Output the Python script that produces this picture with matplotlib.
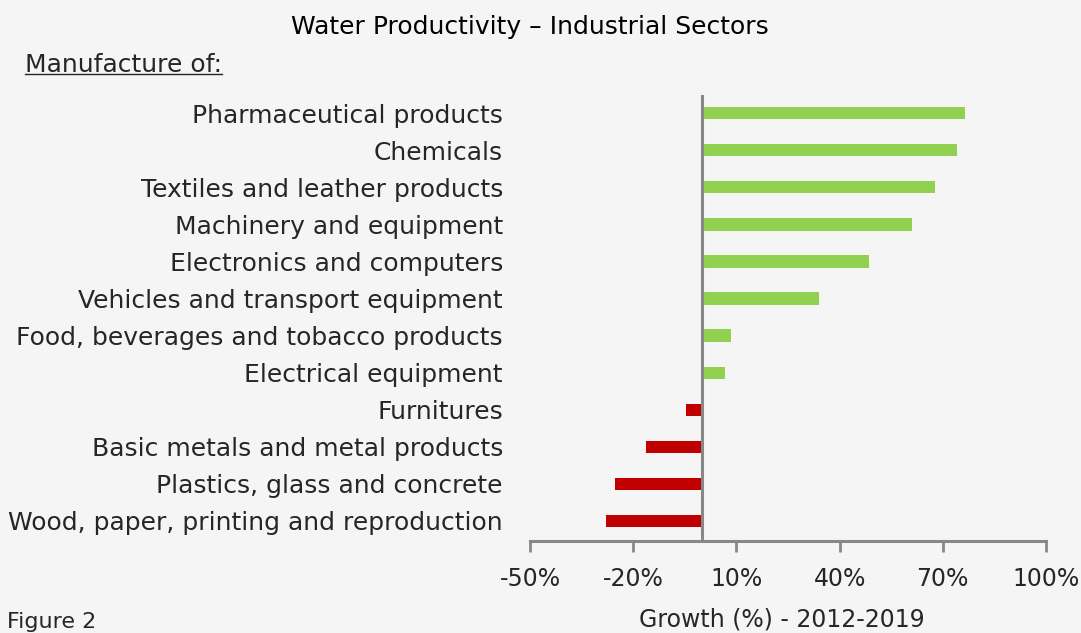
import matplotlib
matplotlib.use("Agg")
import matplotlib.pyplot as plt
from matplotlib.lines import Line2D
from matplotlib.ticker import FuncFormatter

categories = [
    "Pharmaceutical products",
    "Chemicals",
    "Textiles and leather products",
    "Machinery and equipment",
    "Electronics and computers",
    "Vehicles and transport equipment",
    "Food, beverages and tobacco products",
    "Electrical equipment",
    "Furnitures",
    "Basic metals and metal products",
    "Plastics, glass and concrete",
    "Wood, paper, printing and reproduction",
]
values = [76.5, 74.1, 67.7, 61.0, 48.5, 34.0, 8.4, 6.7, -4.7, -16.3, -25.3, -27.9]
xticks = [-50, -20, 10, 40, 70, 100]

GREEN = "#92D050"
RED = "#C00000"
BG = "#F5F5F5"
TXT = "#262626"
GRAY = "#888888"

plt.rcParams['font.family'] = ['DejaVu Sans']

fig = plt.figure(figsize=(10.81, 6.33), dpi=100, facecolor=BG)
ax = fig.add_axes([530/1081, 1-541/633, 516/1081, (541-95)/633])
ax.set_facecolor(BG)

n = len(categories)
ypos = list(range(n - 1, -1, -1))
colors = [GREEN if v >= 0 else RED for v in values]
ax.barh(ypos, values, height=0.33, color=colors, zorder=2)

ax.set_xlim(-50, 100)
ax.set_ylim(-0.54, n - 1 + 0.49)
ax.axvline(0, color=GRAY, lw=2.2, zorder=3)

ax.set_xticks(xticks)
ax.xaxis.set_major_formatter(FuncFormatter(lambda v, p: f"{int(v)}%"))
ax.tick_params(axis='x', direction='out', length=8, width=2, color=GRAY,
               labelsize=17, labelcolor=TXT, pad=11)
ax.set_yticks(ypos)
ax.set_yticklabels(categories)
ax.tick_params(axis='y', length=0, labelsize=18, labelcolor=TXT, pad=19.5)
for sp in ['top', 'right', 'left']:
    ax.spines[sp].set_visible(False)
ax.spines['bottom'].set_color(GRAY)
ax.spines['bottom'].set_linewidth(2.2)

fig.text(530/1081, 1-27/633, "Water Productivity – Industrial Sectors", ha='center', va='center',
         fontsize=18, color='black')
t = fig.text(25/1081, 1-65/633, "Manufacture of:", ha='left', va='center', fontsize=18, color=TXT)
fig.text(7/1081, 1-622/633, "Figure 2", ha='left', va='center', fontsize=16, color=TXT)
fig.text(782/1081, 1-620/633, "Growth (%) - 2012-2019", ha='center', va='center', fontsize=17, color=TXT)

fig.canvas.draw()
bb = t.get_window_extent().transformed(fig.transFigure.inverted())
fig.add_artist(Line2D([bb.x0, bb.x1], [bb.y0 + 0.004, bb.y0 + 0.004], transform=fig.transFigure,
                      color=TXT, lw=1))

fig.savefig("out.png", dpi=100, facecolor=BG)
